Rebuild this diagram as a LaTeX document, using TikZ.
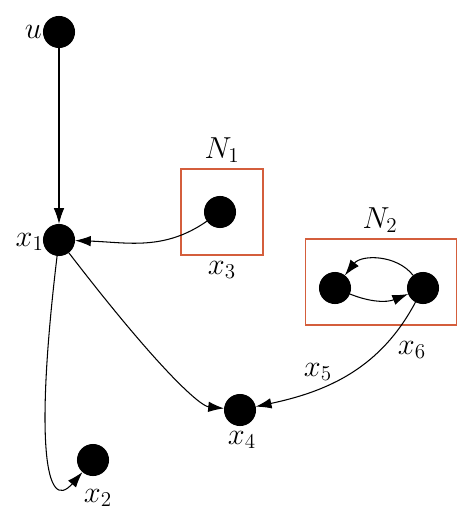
\documentclass[tikz,border=0pt]{standalone}
\usepackage{amsmath, amssymb}
\usepackage{tikz}
\usetikzlibrary{positioning, arrows.meta}
\definecolor{boxorange}{RGB}{212,94,60}

\begin{document}
\begin{tikzpicture}[-{Latex[length=9pt,width=6pt]}, x=0.02cm, y=-0.02cm, semithick,
vertex/.style={circle, fill=black, draw=black, inner sep=0pt, minimum size=0.62cm},
group/.style={draw=boxorange, line width=0.8pt, inner sep=0pt},
lab/.style={font=\LARGE, inner sep=1pt}]
  \useasboundingbox (0,0) rectangle (474,523);
  % groups
  \node[group, minimum width=1.64cm, minimum height=1.72cm] (b1) at (222,212) {};
  \node[group, minimum width=3.02cm, minimum height=1.72cm] (b2) at (381,282) {};
  % vertices
  \node[vertex] (u)  at (59,32)   {};
  \node[vertex] (x1) at (59,240)  {};
  \node[vertex] (x2) at (93,460)  {};
  \node[vertex] (x3) at (220,212) {};
  \node[vertex] (x4) at (240,410) {};
  \node[vertex] (x5) at (335,288) {};
  \node[vertex] (x6) at (423,288) {};
  % labels
  \node[lab, anchor=east] (lu)  at (44,32)   {$u$};
  \node[lab, anchor=east] (l1)  at (46,242)  {$x_1$};
  \node[lab] (l2)  at (98,498)  {$x_2$};
  \node[lab] (l3)  at (222,270) {$x_3$};
  \node[lab] (l4)  at (242,440) {$x_4$};
  \node[lab] (l5)  at (318,372) {$x_5$};
  \node[lab] (l6)  at (412,350) {$x_6$};
  \node[lab] (ln1) at (222,150) {$N_1$};
  \node[lab] (ln2) at (380,220) {$N_2$};

\draw (u) -- (x1);
\draw (x3) to[out=215, in=-2] (x1);
\draw (x1) .. controls +(100,130) and +(-40,-4) .. (x4);
\draw (x1) .. controls +(-24,200) and +(-48,55) .. (x2);
\draw (x6) to[out=-118, in=12] (x4);
\draw (x6) to[bend right=52] (x5);
\draw (x5) to[bend right=22] (x6);
\end{tikzpicture}
\end{document}
